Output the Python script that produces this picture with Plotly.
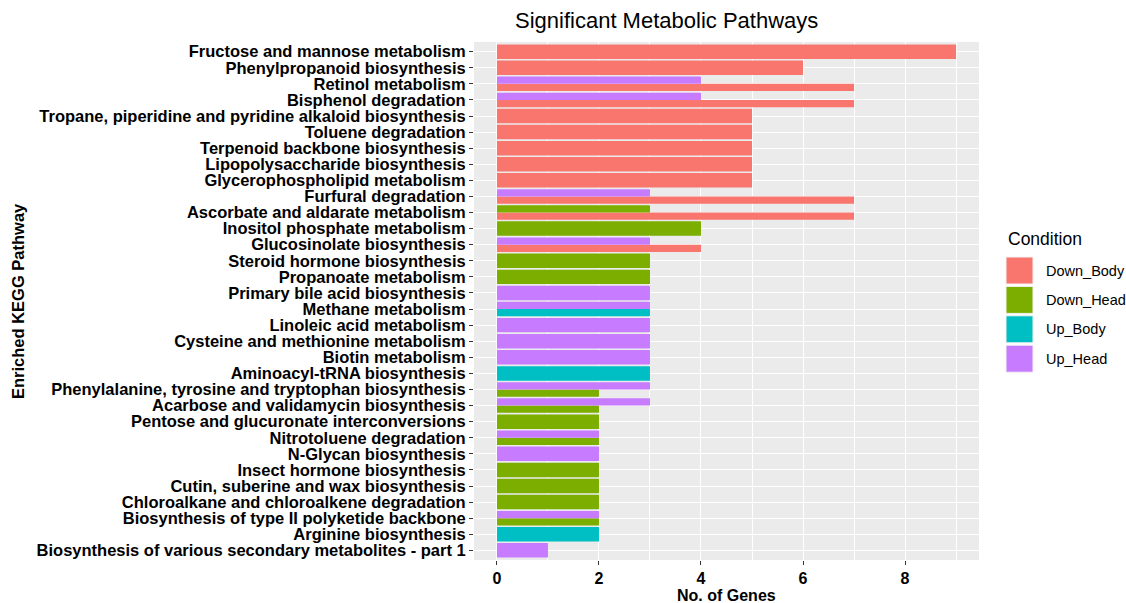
import plotly.graph_objects as go

# Pathways listed top to bottom as displayed
pathways = [
    "Fructose and mannose metabolism",
    "Phenylpropanoid biosynthesis",
    "Retinol metabolism",
    "Bisphenol degradation",
    "Tropane, piperidine and pyridine alkaloid biosynthesis",
    "Toluene degradation",
    "Terpenoid backbone biosynthesis",
    "Lipopolysaccharide biosynthesis",
    "Glycerophospholipid metabolism",
    "Furfural degradation",
    "Ascorbate and aldarate metabolism",
    "Inositol phosphate metabolism",
    "Glucosinolate biosynthesis",
    "Steroid hormone biosynthesis",
    "Propanoate metabolism",
    "Primary bile acid biosynthesis",
    "Methane metabolism",
    "Linoleic acid metabolism",
    "Cysteine and methionine metabolism",
    "Biotin metabolism",
    "Aminoacyl-tRNA biosynthesis",
    "Phenylalanine, tyrosine and tryptophan biosynthesis",
    "Acarbose and validamycin biosynthesis",
    "Pentose and glucuronate interconversions",
    "Nitrotoluene degradation",
    "N-Glycan biosynthesis",
    "Insect hormone biosynthesis",
    "Cutin, suberine and wax biosynthesis",
    "Chloroalkane and chloroalkene degradation",
    "Biosynthesis of type II polyketide backbone",
    "Arginine biosynthesis",
    "Biosynthesis of various secondary metabolites - part 1",
]

conditions = ["Down_Body", "Down_Head", "Up_Body", "Up_Head"]
colors = ["#F8766D", "#7CAE00", "#00BFC4", "#C77CFF"]

# Gene counts per condition (None = pathway not enriched in that condition)
down_body = [9, 6, 7, 7, 5, 5, 5, 5, 5, 7, 7, None, 4, None, None, None,
             None, None, None, None, None, None, None, None, None, None,
             None, None, None, None, None, None]
down_head = [None, None, None, None, None, None, None, None, None, None, 3, 4,
             None, 3, 3, None, None, None, None, None, None, 2, 2, 2, 2, None,
             2, 2, 2, 2, None, None]
up_body = [None, None, None, None, None, None, None, None, None, None, None,
           None, None, None, None, None, 3, None, None, None, 3, None, None,
           None, None, None, None, None, None, None, 2, None]
up_head = [None, None, 4, 4, None, None, None, None, None, 3, None, None, 3,
           None, None, 3, 3, 3, 3, 3, None, 3, 3, None, 2, 2, None, None, None,
           2, None, 1]

series = [down_body, down_head, up_body, up_head]
x_ticks = [0, 2, 4, 6, 8]

# Bottom-to-top order so position index grows upwards
order = list(reversed(pathways))
pos = {p: i for i, p in enumerate(order)}

# Dodge: split the 0.9 slot among the conditions present in each pathway
present = {p: [k for k in range(len(conditions)) if series[k][j] is not None]
           for j, p in enumerate(pathways)}

fig = go.Figure()
for k, cond in enumerate(conditions):
    ys, xs, offs, wids = [], [], [], []
    for j, p in enumerate(pathways):
        v = series[k][j]
        if v is None:
            continue
        grp = present[p]
        w = 0.9 / len(grp)
        ys.append(pos[p])
        xs.append(v)
        offs.append(-0.45 + grp.index(k) * w)
        wids.append(w)
    fig.add_trace(go.Bar(
        x=xs, y=ys, orientation="h", name=cond,
        offset=offs, width=wids,
        marker=dict(color=colors[k], line=dict(width=0)),
        showlegend=False,
    ))

font_family = "Liberation Sans, Arial, sans-serif"

# Panel geometry in pixels (used to place titles and legend in paper units)
L, R, T, B = 474, 979, 42, 560
PW, PH = R - L, B - T

fig.update_layout(
    width=1126, height=603,
    margin=dict(l=L, r=1126 - R, t=T, b=603 - B),
    paper_bgcolor="white",
    plot_bgcolor="#EBEBEB",
    barmode="overlay",
    font=dict(family=font_family, color="black"),
    xaxis=dict(
        range=[-0.45, 9.45],
        tickvals=x_ticks,
        ticks="outside", ticklen=4, tickcolor="#333333", tickwidth=1,
        tickfont=dict(size=16, color="black", weight="bold"),
        showgrid=True, gridcolor="white", gridwidth=1.1,
        minor=dict(dtick=1, showgrid=True, gridcolor="white", gridwidth=0.6),
        zeroline=False, showline=False,
    ),
    yaxis=dict(
        range=[-0.6, len(order) - 0.4],
        tickmode="array",
        tickvals=list(range(len(order))),
        ticktext=order,
        ticks="outside", ticklen=4, tickcolor="#333333", tickwidth=1,
        tickfont=dict(size=16.5, color="black", weight="bold"),
        showgrid=True, gridcolor="white", gridwidth=1.1,
        zeroline=False, showline=False,
    ),
    annotations=[
        dict(text="Significant Metabolic Pathways", xref="paper", yref="paper",
             x=(666 - L) / PW, y=1 + (T - 20) / PH, xanchor="center",
             yanchor="middle", showarrow=False,
             font=dict(size=22, color="black", family=font_family)),
        dict(text="<b>No. of Genes</b>", xref="paper", yref="paper",
             x=0.5, y=-(595 - B) / PH, xanchor="center", yanchor="middle",
             showarrow=False, font=dict(size=16, color="black", family=font_family)),
        dict(text="<b>Enriched KEGG Pathway</b>", xref="paper", yref="paper",
             x=-(L - 18) / PW, y=0.5, xanchor="center", yanchor="middle",
             textangle=-90, showarrow=False,
             font=dict(size=16.5, color="black", family=font_family)),
        dict(text="Condition", xref="paper", yref="paper",
             x=1 + (1006 - R) / PW, y=1 - (239 - T) / PH,
             xanchor="left", yanchor="middle", showarrow=False,
             font=dict(size=17.5, color="black", family=font_family)),
    ],
)

# Legend keys drawn as large filled squares, one row per condition
key_top = 257
key_step = 29.4
key_size = 27
for k, cond in enumerate(conditions):
    y0 = key_top + k * key_step
    fig.add_shape(type="rect", xref="paper", yref="paper",
                  x0=1 + (1006 - R) / PW, x1=1 + (1006 + key_size - R) / PW,
                  y0=1 - (y0 + key_size - T) / PH, y1=1 - (y0 - T) / PH,
                  fillcolor=colors[k], line=dict(color="#F2F2F2", width=1))
    fig.add_annotation(text=cond, xref="paper", yref="paper",
                       x=1 + (1044 - R) / PW, y=1 - (y0 + key_size / 2 - T) / PH,
                       xanchor="left", yanchor="middle", showarrow=False,
                       font=dict(size=14.5, color="black", family=font_family))

fig.write_html("out.html")
